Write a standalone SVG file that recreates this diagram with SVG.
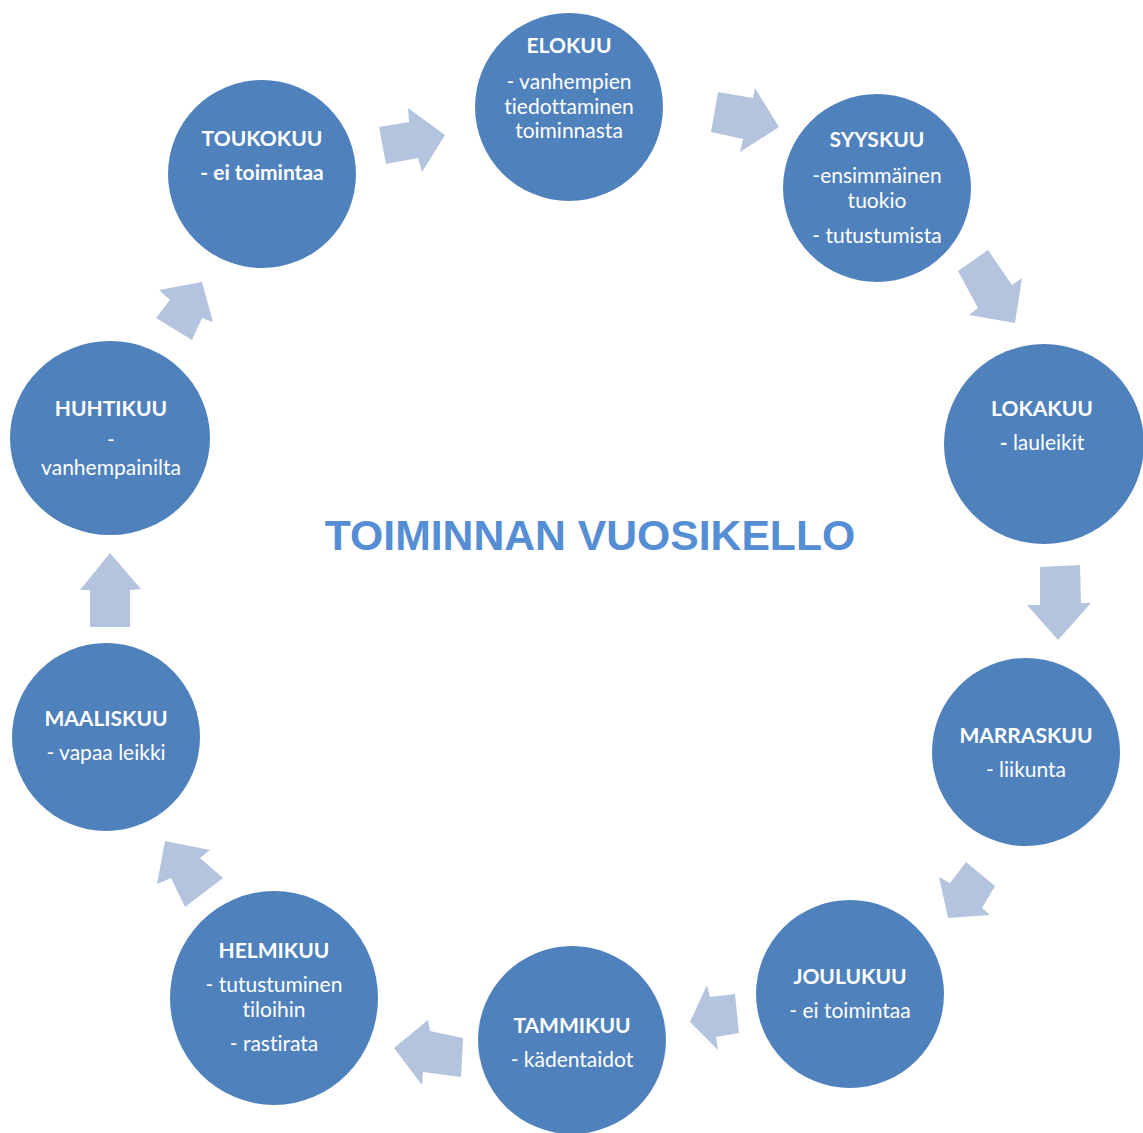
<svg xmlns="http://www.w3.org/2000/svg" width="1143" height="1133" viewBox="0 0 1143 1133">
<style>
.n{fill:#4F81BD;}
.a{fill:#B4C4DF;}
text{font-family:Lato,"Liberation Sans",sans-serif;fill:#FFFFFF;text-anchor:middle;font-size:21px;font-variant-ligatures:none;}
.h{font-weight:bold;}
.t{font-family:"Liberation Sans",Arial,sans-serif;font-weight:bold;font-size:42.7px;fill:#558ED5;}
</style>
<rect width="1143" height="1133" fill="#FFFFFF"/>
<g id="connectors">
<polygon class="a" points="379,127 409,122 408,108 445,135 422,172 418,158 386,164"/>
<polygon class="a" points="718,92 753,98 755,88 779,127 740,152 743,139 711,132"/>
<polygon class="a" points="958,271 988,250 1012,285 1022,278 1015,323 969,315 978,308"/>
<polygon class="a" points="1040,567 1080,565 1081,603 1091,603 1058,640 1027,605 1040,605"/>
<polygon class="a" points="939,877 950,883 966,862 995,886 982,908 990,915 948,918"/>
<polygon class="a" points="707,985 710,997 735,994 739,1033 716,1037 718,1050 690,1022"/>
<polygon class="a" points="428,1020 430,1031 463,1038 461,1077 423,1072 422,1085 394,1048"/>
<polygon class="a" points="165,841 210,850 200,858 223,878 185,907 171,878 157,884"/>
<polygon class="a" points="110,553 141,589 130,590 130,627 90,627 90,590 80,590"/>
<polygon class="a" points="202,282 213,322 202,318 192,340 156,318 170,300 159,290"/>
</g>
<g id="elokuu">
<circle class="n" cx="569" cy="107" r="94"/>
<text x="569" y="53" class="h">ELOKUU</text>
<text x="569" y="89">- vanhempien</text>
<text x="569" y="114">tiedottaminen</text>
<text x="569" y="138">toiminnasta</text>
</g>
<g id="syyskuu">
<circle class="n" cx="877" cy="188" r="94"/>
<text x="877" y="147" class="h">SYYSKUU</text>
<text x="877" y="183">-ensimmäinen</text>
<text x="877" y="208">tuokio</text>
<text x="877" y="243">- tutustumista</text>
</g>
<g id="lokakuu">
<circle class="n" cx="1044" cy="444" r="100"/>
<text x="1042" y="416" class="h">LOKAKUU</text>
<text x="1042" y="450"><tspan class="h">-</tspan> lauleikit</text>
</g>
<g id="marraskuu">
<circle class="n" cx="1026" cy="752" r="94"/>
<text x="1026" y="743" class="h">MARRASKUU</text>
<text x="1026" y="777">- liikunta</text>
</g>
<g id="joulukuu">
<circle class="n" cx="850" cy="994" r="94"/>
<text x="850" y="984" class="h">JOULUKUU</text>
<text x="850" y="1018">- ei toimintaa</text>
</g>
<g id="tammikuu">
<circle class="n" cx="572" cy="1040" r="94"/>
<text x="572" y="1033" class="h">TAMMIKUU</text>
<text x="572" y="1067">- kädentaidot</text>
</g>
<g id="helmikuu">
<ellipse class="n" cx="274" cy="998" rx="104" ry="107"/>
<text x="274" y="958" class="h">HELMIKUU</text>
<text x="274" y="992">- tutustuminen</text>
<text x="274" y="1017">tiloihin</text>
<text x="274" y="1051">- rastirata</text>
</g>
<g id="maaliskuu">
<circle class="n" cx="106" cy="737" r="94"/>
<text x="106" y="726" class="h">MAALISKUU</text>
<text x="106" y="760">- vapaa leikki</text>
</g>
<g id="huhtikuu">
<ellipse class="n" cx="110" cy="438" rx="100" ry="97"/>
<text x="111" y="416" class="h">HUHTIKUU</text>
<text x="111" y="447">-</text>
<text x="111" y="475">vanhempainilta</text>
</g>
<g id="toukokuu">
<circle class="n" cx="262" cy="174" r="94"/>
<text x="262" y="146" class="h">TOUKOKUU</text>
<text x="262" y="180" class="h">- ei toimintaa</text>
</g>
<text x="590" y="550" class="t">TOIMINNAN VUOSIKELLO</text>
</svg>
